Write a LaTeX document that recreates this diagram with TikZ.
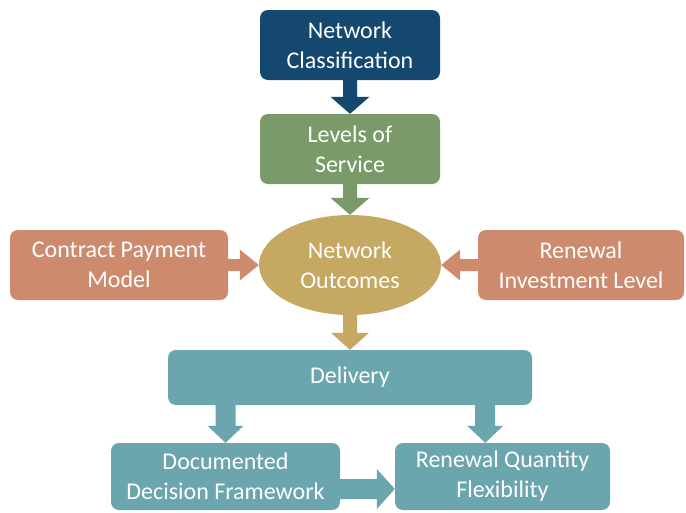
\documentclass[tikz,border=0pt]{standalone}
\usepackage{fontspec}
\setmainfont{Carlito}
\usetikzlibrary{calc,shapes.geometric}
\definecolor{cblue}{HTML}{15486E}
\definecolor{cgreen}{HTML}{7A9A6A}
\definecolor{ctan}{HTML}{C5A862}
\definecolor{csalmon}{HTML}{CE8A6D}
\definecolor{cteal}{HTML}{6BA6AE}
\newcommand\blockarrow[6]{%
  \coordinate (ba-h) at ($(#2)!#6!(#1)$);
  \fill[#3] ($(#1)!#4!90:(#2)$) -- ($(ba-h)!#4!-90:(#1)$) -- ($(ba-h)!#5!-90:(#1)$)
    -- (#2) -- ($(ba-h)!#5!90:(#1)$) -- ($(ba-h)!#4!90:(#1)$) -- ($(#1)!#4!-90:(#2)$) -- cycle;
}
\tikzset{
  txt/.style={text=white, align=center, inner sep=0pt, font=\fontsize{24}{30}\selectfont},
  box/.style={txt, rounded corners=8pt},
}
\begin{document}
\begin{tikzpicture}[x=1pt,y=-1pt]
\useasboundingbox[fill=white] (0,0) rectangle (686,512);
\node[box, fill=cblue, minimum width=180pt, minimum height=70pt] (nc) at (350,45) {Network\\Classification};
\node[box, fill=cgreen, minimum width=180pt, minimum height=70pt] (lev) at (350,149) {Levels of\\Service};
\node[txt, ellipse, fill=ctan, minimum width=182pt, minimum height=100pt] (no) at (350,265) {Network\\Outcomes};
\node[box, fill=csalmon, minimum width=218pt, minimum height=70pt] (cpm) at (119,265) {Contract Payment\\Model};
\node[box, fill=csalmon, minimum width=206pt, minimum height=70pt] (ril) at (581,265) {Renewal\\Investment Level};
\node[box, fill=cteal, minimum width=364pt, minimum height=55pt] (del) at (350,377.5) {Delivery};
\node[box, fill=cteal, minimum width=229pt, minimum height=67pt] (doc) at (225.5,476.5) {Documented\\Decision Framework};
\node[box, fill=cteal, minimum width=215pt, minimum height=67pt] (rqf) at (502.5,476.5) {Renewal Quantity\\Flexibility};
% connectors
\blockarrow{nc.south}{lev.north}{cblue}{7pt}{19.5pt}{17pt}
\blockarrow{lev.south}{no.north}{cgreen}{7pt}{19.5pt}{17pt}
\coordinate (nos) at ($(no.south)+(0,-6)$);
\blockarrow{nos}{del.north}{ctan}{7pt}{19pt}{17pt}
\blockarrow{cpm.east}{no.west}{csalmon}{6pt}{15.5pt}{19pt}
\blockarrow{ril.west}{no.east}{csalmon}{6pt}{15.5pt}{19pt}
\coordinate (d1) at (del.south -| doc.north);
\blockarrow{d1}{doc.north}{cteal}{10pt}{18pt}{17pt}
\coordinate (d2) at ($(del.south east)+(-47,0)$);
\coordinate (d2b) at (d2 |- rqf.north);
\blockarrow{d2}{d2b}{cteal}{10pt}{18pt}{17pt}
\coordinate (h1) at ($(doc.east)+(0,12.5)$);
\coordinate (h2) at (h1 -| rqf.west);
\blockarrow{h1}{h2}{cteal}{10pt}{20pt}{18pt}
\end{tikzpicture}
\end{document}
